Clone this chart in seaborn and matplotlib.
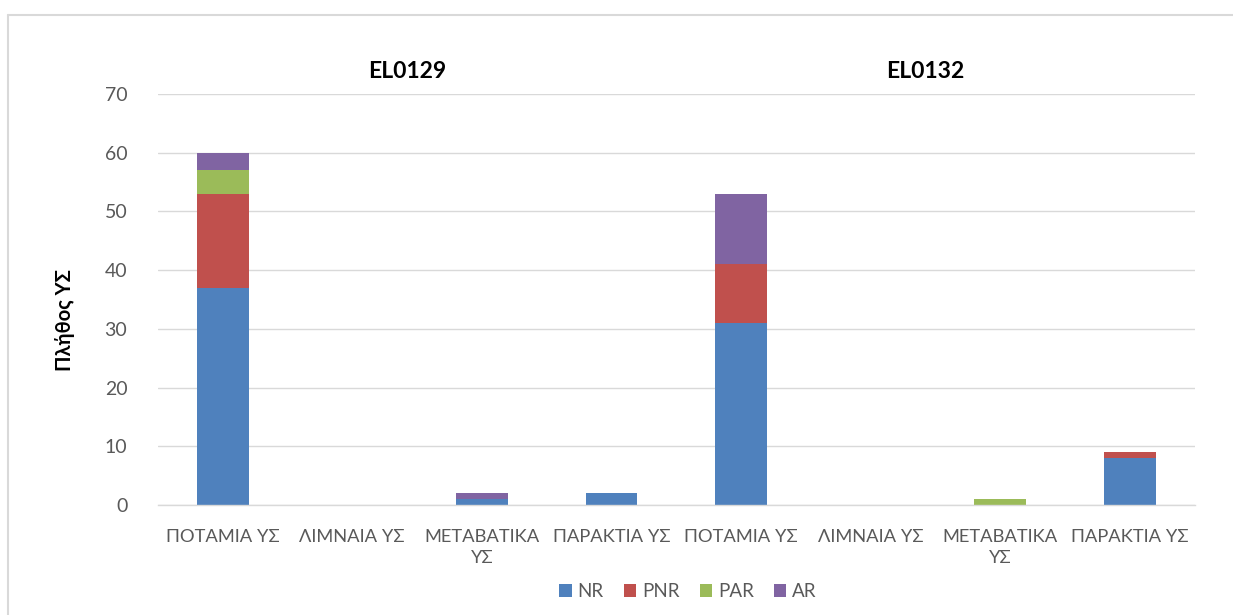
import matplotlib
matplotlib.use("Agg")
import matplotlib.pyplot as plt
from matplotlib.lines import Line2D
from matplotlib.patches import Patch
import numpy as np
import pandas as pd
import seaborn as sns

# Water-body categories per river basin district
districts = ["EL0129", "EL0132"]
categories = ["ΠΟΤΑΜΙΑ ΥΣ", "ΛΙΜΝΑΙΑ ΥΣ", "ΜΕΤΑΒΑΤΙΚΑ\nΥΣ", "ΠΑΡΑΚΤΙΑ ΥΣ"]

# Counts of water bodies per class (EL0129 first four, EL0132 last four)
nr = [37, 0, 1, 2, 31, 0, 0, 8]
pnr = [16, 0, 0, 0, 10, 0, 0, 1]
par = [4, 0, 0, 0, 0, 0, 1, 0]
ar = [3, 0, 1, 0, 12, 0, 0, 0]

series_names = ["NR", "PNR", "PAR", "AR"]
series_colors = ["#4F81BD", "#C0504D", "#9BBB59", "#8064A2"]

sns.set_theme(style="white")
plt.rcParams["font.family"] = ["Lato", "DejaVu Sans"]

slots = [f"{d}|{c}" for d in districts for c in categories]
df = pd.DataFrame({"slot": slots, "NR": nr, "PNR": pnr, "PAR": par, "AR": ar})

fig = plt.figure(figsize=(12.33, 6.15), dpi=100)
ax = fig.add_axes([0.128, 0.179, 0.841, 0.668])

bottom = np.zeros(len(df))
for name, color in zip(series_names, series_colors):
    sns.barplot(data=df, x="slot", y=name, order=slots, color=color,
                width=0.4, bottom=bottom, ax=ax, saturation=1,
                edgecolor="none", linewidth=0)
    bottom = bottom + df[name].to_numpy()

ax.set_ylim(0, 70)
ax.set_yticks(range(0, 71, 10))
ax.set_xlim(-0.5, len(slots) - 0.5)
ax.set_xticks(range(len(slots)))
ax.set_xticklabels([c for d in districts for c in categories],
                   fontsize=13.2, color="#595959", linespacing=1.45)
ax.tick_params(axis="y", labelsize=14, labelcolor="#595959", length=0, pad=22)
ax.tick_params(axis="x", length=0, pad=17)
ax.yaxis.grid(True, color="#D9D9D9", linewidth=1)
ax.set_axisbelow(True)
for side in ["top", "right", "left"]:
    ax.spines[side].set_visible(False)
ax.spines["bottom"].set_color("#D9D9D9")
ax.spines["bottom"].set_linewidth(1)

ax.set_xlabel("")
ax.set_ylabel("Πλήθος ΥΣ", fontsize=14.5, fontweight="bold", color="black")
ax.yaxis.set_label_coords(-0.08, 0.45)

# District headers over each group of four categories
for i, d in enumerate(districts):
    ax.text(1.42 + 4 * i, 73.8, d, ha="center", va="center",
            fontsize=16.5, fontweight="bold", color="black")

handles = [Patch(facecolor=c, edgecolor="none") for c in series_colors]
fig.legend(handles, series_names, loc="center", bbox_to_anchor=(0.558, 0.038),
           ncol=4, frameon=False, fontsize=13.5, handlelength=0.65,
           handleheight=0.65, handletextpad=0.3, columnspacing=1.1,
           labelcolor="#595959")

# Chart-area border
fig.add_artist(Line2D([8 / 1233, 1], [1 - 15 / 615, 1 - 15 / 615],
                      transform=fig.transFigure, color="#D9D9D9", linewidth=1.5))
fig.add_artist(Line2D([8 / 1233, 8 / 1233], [0, 1 - 15 / 615],
                      transform=fig.transFigure, color="#D9D9D9", linewidth=1.5))

fig.savefig("out.png", dpi=100, facecolor="white")
